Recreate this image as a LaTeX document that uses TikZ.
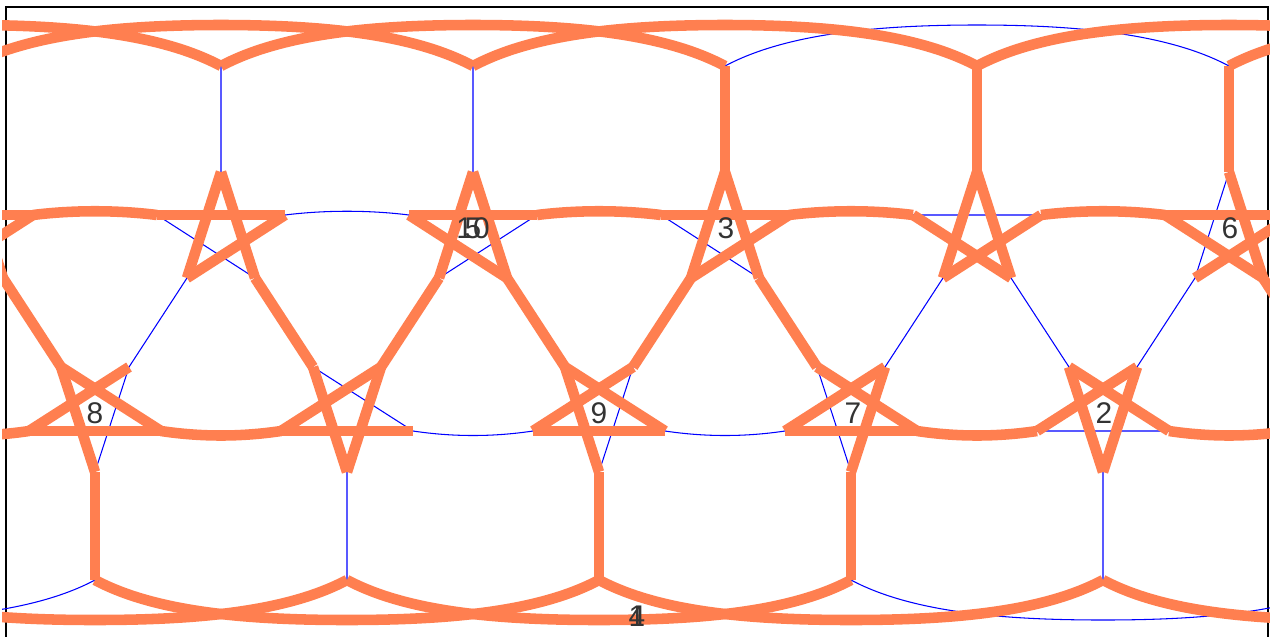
\documentclass[tikz,border=0pt]{standalone}
\usepackage{fontspec}
\setmainfont{Liberation Sans}
\definecolor{coral}{RGB}{255,127,80}

\begin{document}
\begin{tikzpicture}[x=0.02cm, y=-0.02cm,
    thin edge/.style={blue, line width=0.6pt},
    hl/.style={coral, line width=6pt},
    vlabel/.style={font=\fontsize{17}{17}\selectfont, text=black!80, inner sep=0pt}
  ]
  \useasboundingbox (0,0) rectangle (1270,636);
  \draw[line width=1pt] (6,7) rectangle (1268,660);
  \clip (2,0) rectangle (1270,636);

  %% --- points of each cell ---
  \foreach \k in {-7,...,12} {
    \pgfmathsetmacro\ax{221+252*\k}
    \pgfmathsetmacro\bx{95+252*\k}
    \coordinate (T\k)   at (\ax,66);
    \coordinate (Tp\k)  at (\ax,25);
    \coordinate (At\k)  at (\ax,172);
    \coordinate (Al\k)  at (\ax-64,215);
    \coordinate (Ar\k)  at (\ax+64,215);
    \coordinate (All\k) at (\ax-34,278);
    \coordinate (Alr\k) at (\ax+34,278);
    \coordinate (Bb\k)  at (\bx,472);
    \coordinate (Btl\k) at (\bx-34,367);
    \coordinate (Btr\k) at (\bx+34,367);
    \coordinate (Bl\k)  at (\bx-66,431);
    \coordinate (Br\k)  at (\bx+66,431);
    \coordinate (Bv\k)  at (\bx,580);
    \coordinate (Bp\k)  at (\bx,620);
  }

  %% --- thin graph ---
  \foreach \k in {-6,...,8} {
    \pgfmathtruncatemacro\j{\k+1}
    \pgfmathtruncatemacro\m{\k+2}
    \draw[thin edge] (T\k) -- (At\k) (At\k) -- (All\k) (At\k) -- (Alr\k)
      (Al\k) -- (Ar\k) (Al\k) -- (Alr\k) (Ar\k) -- (All\k)
      (All\k) -- (Btr\k) (Alr\k) -- (Btl\j)
      (Bb\k) -- (Btl\k) (Bb\k) -- (Btr\k) (Bl\k) -- (Br\k)
      (Bl\k) -- (Btr\k) (Br\k) -- (Btl\k) (Bb\k) -- (Bv\k);
    \draw[thin edge] (Ar\k) .. controls +(40,-5) and +(-40,-5) .. (Al\j);
    \draw[thin edge] (Br\k) .. controls +(40,6) and +(-40,6) .. (Bl\j);
    \draw[thin edge] (T\k) .. controls +(60,-32) and +(-102,0) .. (Tp\j)
      .. controls +(102,0) and +(-60,-32) .. (T\m);
    \draw[thin edge] (Bv\k) .. controls +(60,32) and +(-102,0) .. (Bp\j)
      .. controls +(102,0) and +(-60,32) .. (Bv\m);
  }

  %% --- highlighted paths, repeated every five cells ---
  \foreach \s in {-5,0,5} {
    \foreach \p/\i/\q/\j in {
        At/0/All/0, At/0/Alr/0, Al/0/Ar/0, Ar/0/All/0, Alr/0/Btl/1,
        At/1/All/1, At/1/Alr/1, Al/1/Ar/1, Al/1/Alr/1, All/1/Btr/1, Alr/1/Btl/2,
        T/2/At/2, At/2/All/2, At/2/Alr/2, Al/2/Ar/2, Ar/2/All/2, All/2/Btr/2, Alr/2/Btl/3,
        T/3/At/3, At/3/All/3, At/3/Alr/3, Al/3/Alr/3, Ar/3/All/3,
        T/4/At/4, At/4/Alr/4, Al/4/Ar/4, Al/4/Alr/4, Ar/4/All/4, Alr/4/Btl/5,
        Bb/0/Btl/0, Bl/0/Br/0, Bl/0/Btr/0, Br/0/Btl/0, Bb/0/Bv/0,
        Bb/1/Btl/1, Bb/1/Btr/1, Bl/1/Br/1, Bl/1/Btr/1,
        Bb/2/Btl/2, Bl/2/Br/2, Bl/2/Btr/2, Br/2/Btl/2, Bb/2/Bv/2,
        Bb/3/Btr/3, Bl/3/Br/3, Bl/3/Btr/3, Br/3/Btl/3, Bb/3/Bv/3,
        Bb/4/Btl/4, Bb/4/Btr/4, Bl/4/Btr/4, Br/4/Btl/4} {
      \pgfmathtruncatemacro\ii{\i+\s}
      \pgfmathtruncatemacro\jj{\j+\s}
      \draw[hl] (\p\ii) -- (\q\jj);
    }
    \foreach \i in {1,2,3,4} {
      \pgfmathtruncatemacro\ii{\i+\s}
      \pgfmathtruncatemacro\jj{\i+\s+1}
      \draw[hl] (Ar\ii) .. controls +(40,-5) and +(-40,-5) .. (Al\jj);
    }
    \foreach \i in {0,3,4} {
      \pgfmathtruncatemacro\ii{\i+\s}
      \pgfmathtruncatemacro\jj{\i+\s+1}
      \draw[hl] (Br\ii) .. controls +(40,6) and +(-40,6) .. (Bl\jj);
    }
    \foreach \i in {0,1,3,4} {
      \pgfmathtruncatemacro\ii{\i+\s}
      \pgfmathtruncatemacro\jj{\i+\s+1}
      \pgfmathtruncatemacro\mm{\i+\s+2}
      \draw[hl] (T\ii) .. controls +(60,-32) and +(-102,0) .. (Tp\jj)
        .. controls +(102,0) and +(-60,-32) .. (T\mm);
    }
    \foreach \i in {0,1,2,4} {
      \pgfmathtruncatemacro\ii{\i+\s}
      \pgfmathtruncatemacro\jj{\i+\s+1}
      \pgfmathtruncatemacro\mm{\i+\s+2}
      \draw[hl] (Bv\ii) .. controls +(60,32) and +(-102,0) .. (Bp\jj)
        .. controls +(102,0) and +(-60,32) .. (Bv\mm);
    }
  }

  %% --- labels ---
  \node[vlabel] (v8)  at (95,413)   {8};
  \node[vlabel] (v9)  at (599,413)  {9};
  \node[vlabel] (v7)  at (853,413)  {7};
  \node[vlabel] (v2)  at (1104,413) {2};
  \node[vlabel] (v3)  at (726,228)  {3};
  \node[vlabel] (v6)  at (1230,228) {6};
  \node[vlabel] (v10) at (473,228)  {10};
  \node[vlabel] (v5)  at (473,228)  {5};
  \node[vlabel] (v4)  at (637,616)  {4};
  \node[vlabel] (v1)  at (637,616)  {1};
\end{tikzpicture}
\end{document}
